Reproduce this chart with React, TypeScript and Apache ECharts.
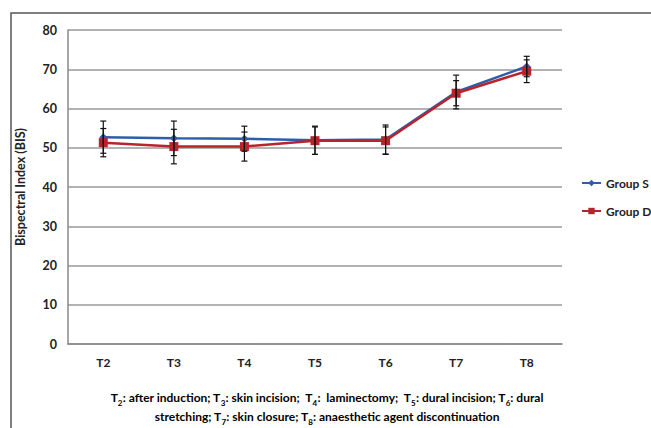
import React, { useEffect, useRef } from "react";
import * as echarts from "echarts";

const categories = ["T2", "T3", "T4", "T5", "T6", "T7", "T8"];
const groupSMean = [52.7, 52.4, 52.3, 51.9, 52.1, 64.2, 70.7];
const groupSSd = [4.1, 4.4, 3.2, 3.6, 3.7, 4.3, 2.6];
const groupDMean = [51.3, 50.3, 50.3, 51.8, 51.8, 63.9, 69.5];
const groupDSd = [3.6, 4.4, 3.7, 3.5, 3.5, 3.2, 2.9];
const yTicks = { min: 0, max: 80, interval: 10 };
const seriesNames = ["Group S", "Group D"];

const FONT = "Lato, 'Open Sans', sans-serif";

export default function App() {
  const ref = useRef<HTMLDivElement>(null);
  useEffect(() => {
    if (!ref.current) return;
    const chart = echarts.init(ref.current, null, { renderer: "svg" });

    const errData = (mean: number[], sd: number[]) =>
      mean.map((m, i) => [i, m - sd[i], m + sd[i]]);

    const renderErr = (params: any, api: any) => {
      const x = api.value(0);
      const lo = api.coord([x, api.value(1)]);
      const hi = api.coord([x, api.value(2)]);
      const hw = 3;
      const style = { stroke: "#111", lineWidth: 1.2 };
      return {
        type: "group",
        children: [
          { type: "line", shape: { x1: lo[0], y1: lo[1], x2: hi[0], y2: hi[1] }, style },
          { type: "line", shape: { x1: lo[0] - hw, y1: lo[1], x2: lo[0] + hw, y2: lo[1] }, style },
          { type: "line", shape: { x1: hi[0] - hw, y1: hi[1], x2: hi[0] + hw, y2: hi[1] }, style },
        ],
      };
    };

    const footRich = {
      b: { fontSize: 12, fontWeight: "bold", fontFamily: FONT, color: "#222", lineHeight: 20, verticalAlign: "middle" },
      s: { fontSize: 8, fontWeight: "bold", fontFamily: FONT, color: "#222", lineHeight: 20, verticalAlign: "bottom" },
    };

    chart.setOption({
      animation: false,
      backgroundColor: "#fff",
      grid: { left: 68, top: 30, right: 89, bottom: 84, containLabel: false },
      legend: {
        orient: "vertical",
        left: 576,
        top: 172,
        itemWidth: 19,
        itemHeight: 8,
        itemGap: 16,
        data: seriesNames,
        textStyle: { fontFamily: FONT, fontWeight: "bold", fontSize: 12, color: "#222" },
      },
      xAxis: {
        type: "category",
        data: categories,
        boundaryGap: true,
        axisLine: { lineStyle: { color: "#888", width: 1.5 } },
        axisTick: { show: false },
        axisLabel: { fontFamily: FONT, fontWeight: "bold", fontSize: 12, color: "#222", margin: 12 },
      },
      yAxis: {
        type: "value",
        min: yTicks.min,
        max: yTicks.max,
        interval: yTicks.interval,
        name: "Bispectral Index (BIS)",
        nameLocation: "middle",
        nameGap: 41,
        nameTextStyle: { fontFamily: FONT, fontWeight: "bold", fontSize: 12.5, color: "#222" },
        axisLine: { show: true, lineStyle: { color: "#888", width: 1.5 } },
        axisTick: { show: false },
        splitLine: { lineStyle: { color: "#999", width: 1.5 } },
        axisLabel: { fontFamily: FONT, fontWeight: "bold", fontSize: 12.5, color: "#222", margin: 11 },
      },
      series: [
        {
          name: seriesNames[0],
          type: "line",
          data: groupSMean,
          symbol: "diamond",
          symbolSize: 8,
          lineStyle: { color: "#2F5DAB", width: 2.5 },
          itemStyle: { color: "#2F5DAB" },
          z: 3,
        },
        {
          name: seriesNames[1],
          type: "line",
          data: groupDMean,
          symbol: "rect",
          symbolSize: 9,
          lineStyle: { color: "#B8242B", width: 2.5 },
          itemStyle: { color: "#B8242B" },
          z: 4,
        },
        {
          type: "custom",
          data: errData(groupSMean, groupSSd),
          renderItem: renderErr,
          encode: { x: 0, y: [1, 2] },
          z: 5,
          silent: true,
        },
        {
          type: "custom",
          data: errData(groupDMean, groupDSd),
          renderItem: renderErr,
          encode: { x: 0, y: [1, 2] },
          z: 5,
          silent: true,
        },
      ],
      graphic: [
        {
          type: "rect",
          shape: { x: 11, y: 13, width: 700, height: 500 },
          style: { fill: "none", stroke: "#555", lineWidth: 1.5 },
          silent: true,
        },
        {
          type: "text",
          x: 327,
          y: 397,
          style: {
            text:
              "{b|T}{s|2}{b|: after induction; T}{s|3}{b|: skin incision;  T}{s|4}{b|:  laminectomy;  T}{s|5}{b|: dural incision; T}{s|6}{b|: dural}",
            rich: footRich,
            align: "center",
            verticalAlign: "middle",
          },
        },
        {
          type: "text",
          x: 327,
          y: 416,
          style: {
            text:
              "{b|stretching; T}{s|7}{b|: skin closure; T}{s|8}{b|: anaesthetic agent discontinuation}",
            rich: footRich,
            align: "center",
            verticalAlign: "middle",
          },
        },
      ],
    });
    return () => chart.dispose();
  }, []);
  return <div ref={ref} style={{ width: 651, height: 428, position: "absolute", left: 0, top: 0 }} />;
}
